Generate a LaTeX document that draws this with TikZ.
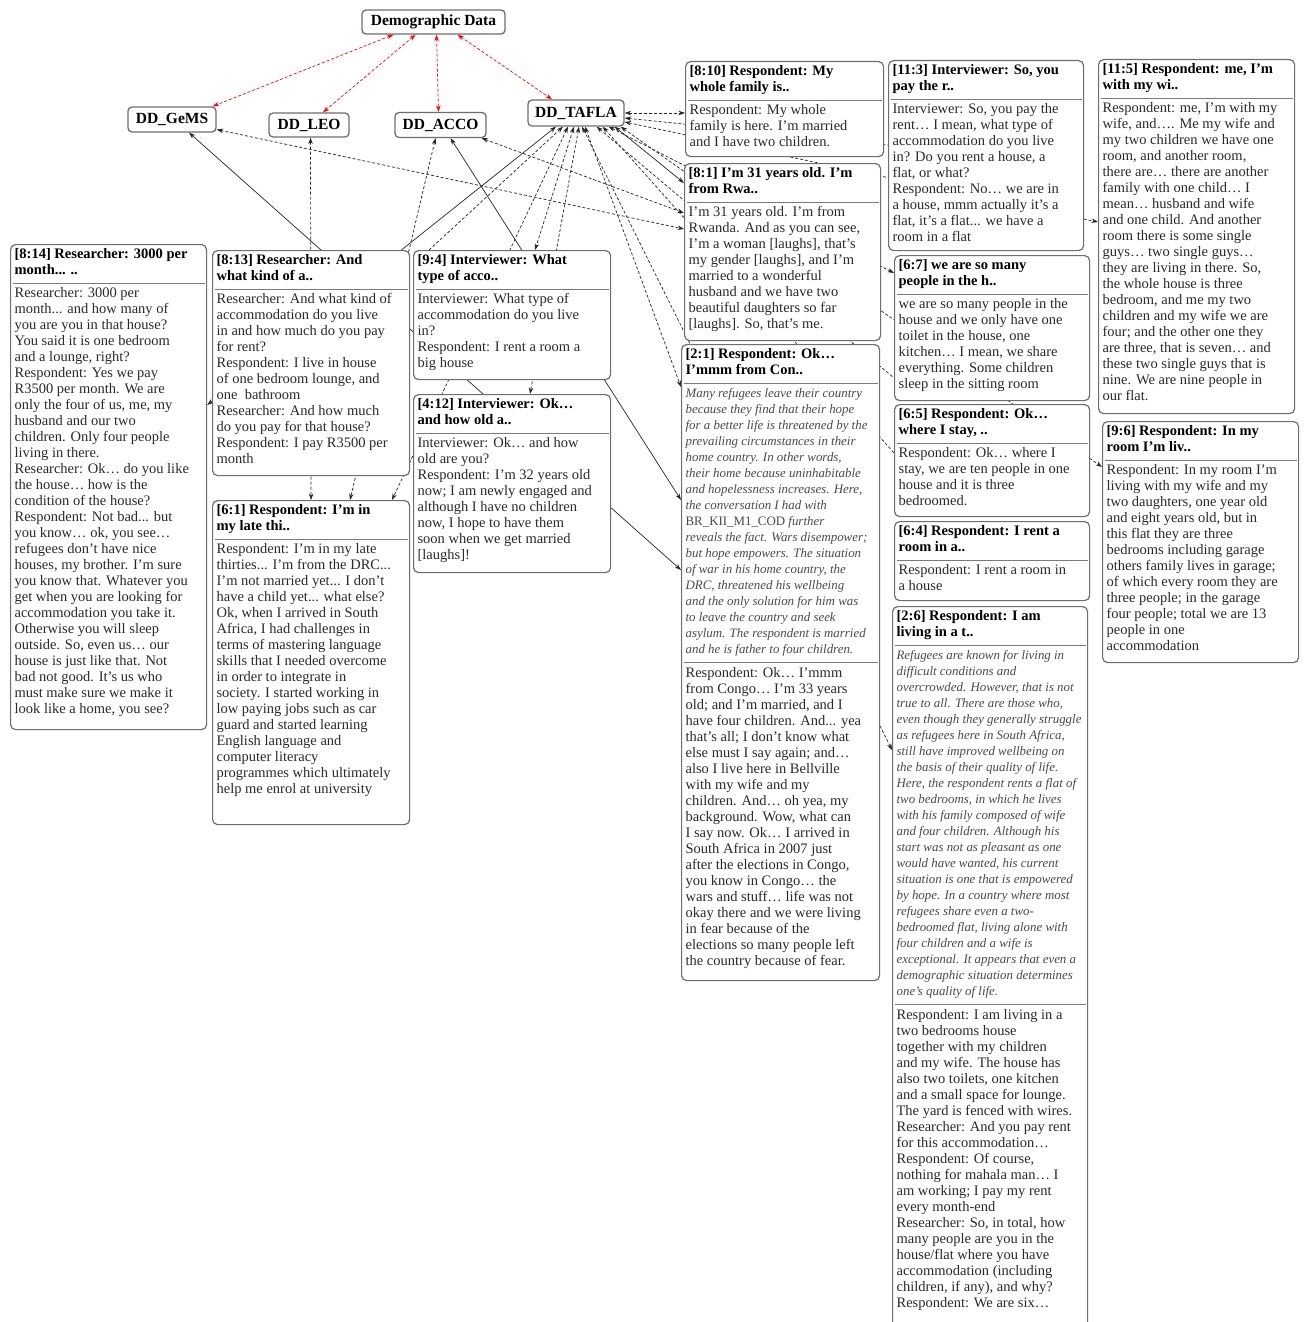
\documentclass[tikz,border=0pt]{standalone}
\usepackage{fontspec}
\setmainfont{Liberation Serif}
\usetikzlibrary{arrows.meta}
\definecolor{bordc}{HTML}{6E6E6E}
\definecolor{sepc}{HTML}{7A7A7A}
\definecolor{bodyc}{HTML}{2A2A2A}
\definecolor{itc}{HTML}{4A4A4A}
\pgfdeclarelayer{back}
\pgfdeclarelayer{lines}
\pgfsetlayers{back,lines,main}
\newcommand\cb[3]{\parbox[t][#2pt][t]{\dimexpr#1pt-8pt\relax}{#3}}
\newcommand\ttl[1]{\vspace*{2.8pt}\noindent{\color{black}\bfseries\fontsize{14.5}{16}\selectfont\begin{tabular}[t]{@{}l@{}}#1\end{tabular}}\par}
\newcommand\sepl{\par\nointerlineskip\vspace{3.2pt}\noindent\hspace*{-2pt}{\color{sepc}\rule{\dimexpr\linewidth+4pt\relax}{1.5pt}}\par\nointerlineskip\vspace{2.5pt}}
\newcommand\txt[1]{\noindent{\color{bodyc}\fontsize{14.5}{16}\selectfont\begin{tabular}[t]{@{}l@{}}#1\end{tabular}}\par}
\newcommand\itx[1]{\noindent{\color{itc}\itshape\fontsize{12.9}{16}\selectfont\begin{tabular}[t]{@{}l@{}}#1\end{tabular}}\par}
\tikzset{
  cbox/.style={draw=bordc, line width=1.2pt, rounded corners=5pt, fill=white, inner xsep=4pt, inner ysep=0pt, anchor=north west, text=bodyc},
  ddbox/.style={draw=bordc, line width=1.3pt, rounded corners=4pt, fill=white, inner sep=0pt, font=\bfseries\fontsize{15.5}{18}\selectfont, text=black},
  ln/.style={draw=black!85, line width=0.7pt},
  dl/.style={ln, dash pattern=on 3pt off 2pt},
  rl/.style={draw=red, line width=0.7pt, dash pattern=on 3pt off 2pt}
}
\begin{document}
\begin{tikzpicture}[x=1pt, y=1pt, >={Stealth[length=6.5pt,width=4.5pt]}]
\begin{pgfonlayer}{back}
\fill[white] (0,0) rectangle (1304,-1322);
\end{pgfonlayer}
\useasboundingbox (0,0) rectangle (1304,-1322);

% top nodes
\node[ddbox, minimum width=143pt, minimum height=24pt] (dem) at (433.5,-22) {Demographic Data};
\node[ddbox, minimum width=88pt, minimum height=25pt] (gems) at (172,-119.5) {DD\_GeMS};
\node[ddbox, minimum width=80pt, minimum height=24pt] (leo) at (309,-125) {DD\_LEO};
\node[ddbox, minimum width=91pt, minimum height=25pt] (acco) at (440.5,-125) {DD\_ACCO};
\node[ddbox, minimum width=96pt, minimum height=26pt] (tafla) at (576,-113) {DD\_TAFLA};

% content boxes
\node[cbox] (n814) at (10,-244) {\cb{196}{485}{\ttl{[8:14] Researcher: 3000 per\\month... ..}\sepl\txt{Researcher: 3000 per\\month... and how many of\\you are you in that house?\\You said it is one bedroom\\and a lounge, right?\\Respondent: Yes we pay\\R3500 per month. We are\\only the four of us, me, my\\husband and our two\\children. Only four people\\living in there.\\Researcher: Ok… do you like\\the house… how is the\\condition of the house?\\Respondent: Not bad... but\\you know… ok, you see…\\refugees don’t have nice\\houses, my brother. I’m sure\\you know that. Whatever you\\get when you are looking for\\accommodation you take it.\\Otherwise you will sleep\\outside. So, even us… our\\house is just like that. Not\\bad not good. It’s us who\\must make sure we make it\\look like a home, you see?}}};

\node[cbox] (n813) at (212,-250) {\cb{197}{225}{\ttl{[8:13] Researcher: And\\what kind of a..}\sepl\txt{Researcher: And what kind of\\accommodation do you live\\in and how much do you pay\\for rent?\\Respondent: I live in house\\of one bedroom lounge, and\\one\ \ bathroom\\Researcher: And how much\\do you pay for that house?\\Respondent: I pay R3500 per\\month}}};

\node[cbox] (n61) at (212,-500) {\cb{197}{324}{\ttl{[6:1] Respondent: I’m in\\my late thi..}\sepl\txt{Respondent: I’m in my late\\thirties... I’m from the DRC...\\I’m not married yet... I don’t\\have a child yet... what else?\\Ok, when I arrived in South\\Africa, I had challenges in\\terms of mastering language\\skills that I needed overcome\\in order to integrate in\\society. I started working in\\low paying jobs such as car\\guard and started learning\\English language and\\computer literacy\\programmes which ultimately\\help me enrol at university}}};

\node[cbox] (n94) at (413,-250) {\cb{197}{129}{\ttl{[9:4] Interviewer: What\\type of acco..}\sepl\txt{Interviewer: What type of\\accommodation do you live\\in?\\Respondent: I rent a room a\\big house}}};

\node[cbox] (n412) at (413,-394) {\cb{197}{178}{\ttl{[4:12] Interviewer: Ok…\\and how old a..}\sepl\txt{Interviewer: Ok… and how\\old are you?\\Respondent: I’m 32 years old\\now; I am newly engaged and\\although I have no children\\now, I hope to have them\\soon when we get married\\{}[laughs]!}}};

\node[cbox] (n810) at (685,-61) {\cb{198}{95}{\ttl{[8:10] Respondent: My\\whole family is..}\sepl\txt{Respondent: My whole\\family is here. I’m married\\and I have two children.}}};

\node[cbox] (n81) at (684,-163) {\cb{196}{177}{\ttl{[8:1] I’m 31 years old. I’m\\from Rwa..}\sepl\txt{I’m 31 years old. I’m from\\Rwanda. And as you can see,\\I’m a woman [laughs], that’s\\my gender [laughs], and I’m\\married to a wonderful\\husband and we have two\\beautiful daughters so far\\{}[laughs]. So, that’s me.}}};

\node[cbox] (n21) at (681,-344) {\cb{198}{636}{\ttl{[2:1] Respondent: Ok…\\I’mmm from Con..}\sepl\itx{Many refugees leave their country\\because they find that their hope\\for a better life is threatened by the\\prevailing circumstances in their\\home country. In other words,\\their home because uninhabitable\\and hopelessness increases. Here,\\the conversation I had with\\{\upshape BR\_KII\_M1\_COD} further\\reveals the fact. Wars disempower;\\but hope empowers. The situation\\of war in his home country, the\\DRC, threatened his wellbeing\\and the only solution for him was\\to leave the country and seek\\asylum. The respondent is married\\and he is father to four children.}\sepl\txt{Respondent: Ok… I’mmm\\from Congo… I’m 33 years\\old; and I’m married, and I\\have four children. And... yea\\that’s all; I don’t know what\\else must I say again; and…\\also I live here in Bellville\\with my wife and my\\children. And… oh yea, my\\background. Wow, what can\\I say now. Ok… I arrived in\\South Africa in 2007 just\\after the elections in Congo,\\you know in Congo… the\\wars and stuff… life was not\\okay there and we were living\\in fear because of the\\elections so many people left\\the country because of fear.}}};

\node[cbox] (n113) at (888,-60) {\cb{195}{190}{\ttl{[11:3] Interviewer: So, you\\pay the r..}\sepl\txt{Interviewer: So, you pay the\\rent… I mean, what type of\\accommodation do you live\\in? Do you rent a house, a\\flat, or what?\\Respondent: No… we are in\\a house, mmm actually it’s a\\flat, it’s a flat... we have a\\room in a flat}}};

\node[cbox] (n67) at (894,-255) {\cb{195}{145}{\ttl{[6:7] we are so many\\people in the h..}\sepl\txt{we are so many people in the\\house and we only have one\\toilet in the house, one\\kitchen… I mean, we share\\everything. Some children\\sleep in the sitting room}}};

\node[cbox] (n65) at (894,-404) {\cb{195}{112}{\ttl{[6:5] Respondent: Ok…\\where I stay, ..}\sepl\txt{Respondent: Ok… where I\\stay, we are ten people in one\\house and it is three\\bedroomed.}}};

\node[cbox] (n64) at (894,-521) {\cb{195}{79}{\ttl{[6:4] Respondent: I rent a\\room in a..}\sepl\txt{Respondent: I rent a room in\\a house}}};

\node[cbox] (n26) at (892,-606) {\cb{195}{730}{\ttl{[2:6] Respondent: I am\\living in a t..}\sepl\itx{Refugees are known for living in\\difficult conditions and\\overcrowded. However, that is not\\true to all. There are those who,\\even though they generally struggle\\as refugees here in South Africa,\\still have improved wellbeing on\\the basis of their quality of life.\\Here, the respondent rents a flat of\\two bedrooms, in which he lives\\with his family composed of wife\\and four children. Although his\\start was not as pleasant as one\\would have wanted, his current\\situation is one that is empowered\\by hope. In a country where most\\refugees share even a two-\\bedroomed flat, living alone with\\four children and a wife is\\exceptional. It appears that even a\\demographic situation determines\\one's quality of life.}\sepl\txt{Respondent: I am living in a\\two bedrooms house\\together with my children\\and my wife. The house has\\also two toilets, one kitchen\\and a small space for lounge.\\The yard is fenced with wires.\\Researcher: And you pay rent\\for this accommodation…\\Respondent: Of course,\\nothing for mahala man… I\\am working; I pay my rent\\every month-end\\Researcher: So, in total, how\\many people are you in the\\house/flat where you have\\accommodation (including\\children, if any), and why?\\Respondent: We are six…}}};

\node[cbox] (n115) at (1098,-59) {\cb{196}{354}{\ttl{[11:5] Respondent: me, I’m\\with my wi..}\sepl\txt{Respondent: me, I’m with my\\wife, and…. Me my wife and\\my two children we have one\\room, and another room,\\there are… there are another\\family with one child… I\\mean… husband and wife\\and one child. And another\\room there is some single\\guys… two single guys…\\they are living in there. So,\\the whole house is three\\bedroom, and me my two\\children and my wife we are\\four; and the other one they\\are three, that is seven… and\\these two single guys that is\\nine. We are nine people in\\our flat.}}};

\node[cbox] (n96) at (1102,-421) {\cb{196}{241}{\ttl{[9:6] Respondent: In my\\room I’m liv..}\sepl\txt{Respondent: In my room I’m\\living with my wife and my\\two daughters, one year old\\and eight years old, but in\\this flat they are three\\bedrooms including garage\\others family lives in garage;\\of which every room they are\\three people; in the garage\\four people; total we are 13\\people in one\\accommodation}}};

% connectors
\begin{pgfonlayer}{lines}
\draw[rl, <->] ([xshift=-40pt]dem.south) -- ([xshift=-4pt]gems.north east);
\draw[rl, <->] ([xshift=-18pt]dem.south) -- ([xshift=14pt]leo.north);
\draw[rl, <->] ([xshift=3pt]dem.south) -- ([xshift=-2pt]acco.north);
\draw[rl, <->] ([xshift=24pt]dem.south) -- ([xshift=-24pt]tafla.north);

\draw[ln, <->] ([xshift=17pt]gems.south) -- ([yshift=-226pt]n21.north west);
\draw[dl, <->] ([yshift=-10pt]gems.east) -- ([yshift=-66pt]n81.north west);
\draw[dl, <->] ([xshift=1.5pt]leo.south) -- (n61.north);
\draw[dl, <->] ([xshift=-5pt]acco.south) -- ([xshift=138pt]n61.north west);
\draw[ln, <->] ([xshift=10pt]acco.south) -- ([yshift=-156pt]n21.north west);
\draw[dl, <->] ([xshift=-5pt]acco.south east) -- ([yshift=-50pt]n81.north west);

\draw[ln, <->] ([xshift=-20pt]tafla.south) -- ([yshift=-161pt]n814.north east);
\draw[dl, <-] ([xshift=-13pt]tafla.south) -- ([xshift=16pt]n94.north west);
\draw[dl, <->] ([xshift=-8pt]tafla.south) -- ([xshift=180pt]n61.north west);
\draw[dl, <->] ([xshift=-2pt]tafla.south) -- ([xshift=122pt]n94.north west);
\draw[dl, <->] ([xshift=3pt]tafla.south) -- ([xshift=117pt]n412.north west);
\draw[dl, <->] ([xshift=9pt]tafla.south) -- ([yshift=-43pt]n21.north west);
\draw[dl, <->] ([xshift=6pt]tafla.south) -- ([yshift=-144pt]n26.north west);
\draw[dl, <->] (tafla.east) -- ([yshift=-52pt]n810.north west);
\draw[dl, <-] ([yshift=-5pt]tafla.east) -- ([yshift=-85pt]n113.north west);
\draw[dl, <->] ([yshift=-9pt]tafla.east) -- ([yshift=-163pt]n115.north west);
\draw[ln, <->] ([xshift=-10pt]tafla.south east) -- ([yshift=-20pt]n81.north west);
\draw[dl, <->] ([xshift=-16pt]tafla.south east) -- ([yshift=-18pt]n67.north west);
\draw[dl, <-] ([xshift=-22pt]tafla.south east) -- ([yshift=-49pt]n65.north west);
\draw[dl, <->] ([xshift=-4pt]tafla.south east) -- ([yshift=-46pt]n96.north west);
\draw[dl, <-] ([xshift=-28pt]tafla.south east) -- ([yshift=-123pt]n67.north west);
\end{pgfonlayer}
\end{tikzpicture}
\end{document}
